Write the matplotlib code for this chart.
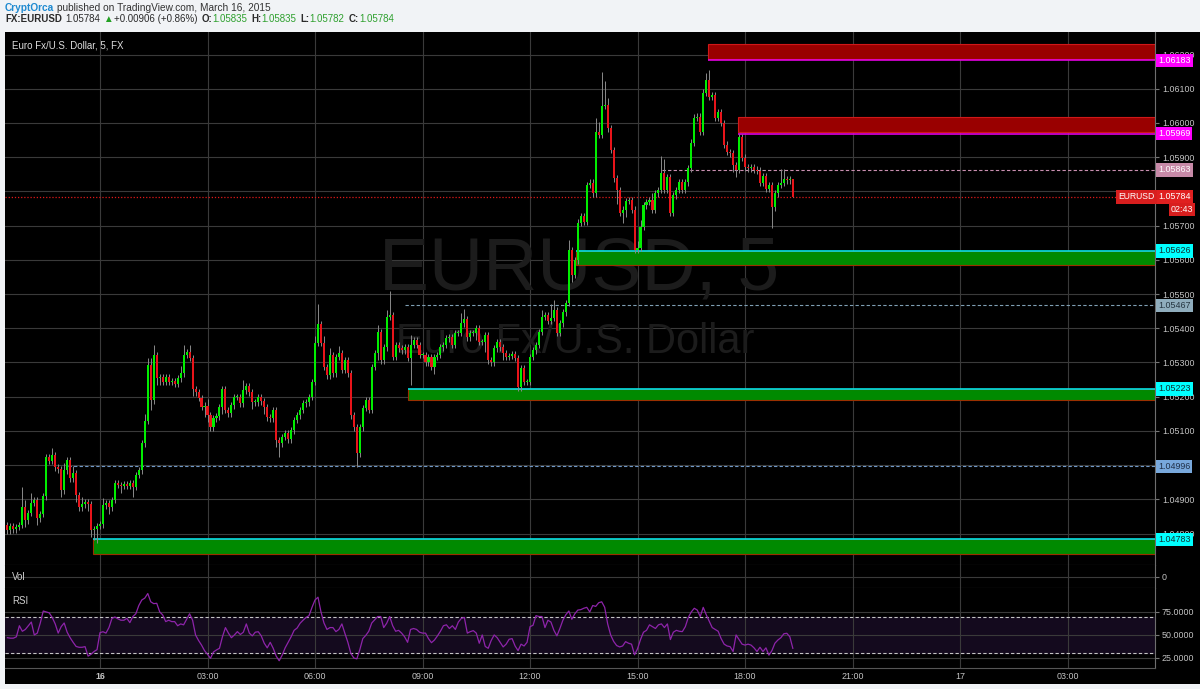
import numpy as np
import matplotlib
matplotlib.use("Agg")
import matplotlib.pyplot as plt
from matplotlib.patches import Rectangle
import matplotlib.transforms as mtransforms

FAM = ["Liberation Sans", "DejaVu Sans"]
plt.rcParams["font.family"] = FAM

# EURUSD 5 min closes, 21:25 (Mar 15) -> 19:20 (Mar 16), one row per hour
closes = np.array([
    1.04810, 1.04822, 1.04813, 1.04819, 1.04825, 1.04877, 1.04839, 1.04860, 1.04889, 1.04898, 1.04845, 1.04857,
    1.04909, 1.05023, 1.05012, 1.05029, 1.04994, 1.04988, 1.04927, 1.04985, 1.05015, 1.04962, 1.04977, 1.04912,
    1.04877, 1.04886, 1.04892, 1.04886, 1.04810, 1.04813, 1.04822, 1.04827, 1.04883, 1.04889, 1.04877, 1.04898,
    1.04947, 1.04942, 1.04939, 1.04944, 1.04939, 1.04947, 1.04936, 1.04971, 1.04985, 1.05064, 1.05129, 1.05292,
    1.05190, 1.05322, 1.05254, 1.05257, 1.05243, 1.05257, 1.05243, 1.05246, 1.05237, 1.05254, 1.05269, 1.05322,
    1.05330, 1.05313, 1.05222, 1.05213, 1.05196, 1.05170, 1.05173, 1.05146, 1.05111, 1.05137, 1.05143, 1.05170,
    1.05222, 1.05161, 1.05152, 1.05175, 1.05199, 1.05199, 1.05181, 1.05219, 1.05231, 1.05213, 1.05184, 1.05184,
    1.05199, 1.05187, 1.05170, 1.05140, 1.05137, 1.05161, 1.05073, 1.05064, 1.05082, 1.05094, 1.05076, 1.05102,
    1.05132, 1.05146, 1.05161, 1.05181, 1.05184, 1.05199, 1.05243, 1.05357, 1.05412, 1.05357, 1.05287, 1.05263,
    1.05322, 1.05269, 1.05316, 1.05327, 1.05278, 1.05307, 1.05269, 1.05146, 1.05111, 1.05035, 1.05111, 1.05167,
    1.05190, 1.05161, 1.05287, 1.05327, 1.05389, 1.05307, 1.05345, 1.05433, 1.05439, 1.05316, 1.05351, 1.05342,
    1.05336, 1.05345, 1.05313, 1.05351, 1.05365, 1.05351, 1.05322, 1.05322, 1.05301, 1.05316, 1.05287, 1.05316,
    1.05322, 1.05345, 1.05351, 1.05371, 1.05374, 1.05351, 1.05386, 1.05386, 1.05415, 1.05427, 1.05374, 1.05386,
    1.05386, 1.05401, 1.05360, 1.05360, 1.05380, 1.05307, 1.05301, 1.05342, 1.05360, 1.05345, 1.05327, 1.05316,
    1.05319, 1.05325, 1.05313, 1.05228, 1.05284, 1.05243, 1.05243, 1.05316, 1.05336, 1.05351, 1.05389, 1.05433,
    1.05439, 1.05421, 1.05430, 1.05453, 1.05386, 1.05415, 1.05447, 1.05474, 1.05629, 1.05556, 1.05599, 1.05708,
    1.05728, 1.05711, 1.05819, 1.05825, 1.05795, 1.05974, 1.05965, 1.06050, 1.06053, 1.05985, 1.05921, 1.05839,
    1.05804, 1.05737, 1.05746, 1.05772, 1.05775, 1.05746, 1.05629, 1.05635, 1.05696, 1.05760, 1.05769, 1.05775,
    1.05746, 1.05795, 1.05804, 1.05854, 1.05804, 1.05842, 1.05737, 1.05789, 1.05804, 1.05827, 1.05804, 1.05827,
    1.05868, 1.05942, 1.06015, 1.06018, 1.05974, 1.06088, 1.06126, 1.06076, 1.06082, 1.06015, 1.06032, 1.06000,
    1.05936, 1.05915, 1.05912, 1.05877, 1.05863, 1.05959, 1.05898, 1.05871, 1.05868, 1.05871, 1.05863, 1.05860,
    1.05825, 1.05845, 1.05807, 1.05819, 1.05754, 1.05795, 1.05819, 1.05825, 1.05836, 1.05833, 1.05835, 1.05784,
])
# wick lengths beyond the body, in pips
wick_up = np.array([
    1, 1, 1, 1, 1, 6, 2, 1, 3, 1, 1, 1,
    1, 1, 1, 2, 1, 1, 1, 2, 1, 1, 2, 1,
    1, 2, 1, 1, 1, 1, 1, 1, 2, 1, 1, 1,
    1, 1, 1, 1, 1, 1, 1, 1, 1, 1, 2, 2,
    2, 3, 1, 1, 1, 1, 1, 1, 1, 1, 2, 3,
    1, 2, 1, 1, 1, 1, 1, 2, 1, 1, 1, 1,
    1, 1, 1, 1, 1, 1, 1, 3, 1, 1, 1, 1,
    1, 1, 1, 1, 1, 1, 1, 1, 1, 1, 1, 1,
    1, 1, 1, 1, 1, 1, 1, 2, 6, 1, 2, 1,
    2, 1, 1, 2, 1, 1, 1, 1, 1, 1, 1, 1,
    1, 1, 1, 1, 2, 1, 1, 2, 7, 1, 1, 1,
    1, 1, 1, 3, 1, 1, 1, 1, 1, 1, 1, 1,
    1, 1, 1, 1, 1, 1, 1, 1, 3, 3, 1, 1,
    1, 1, 1, 1, 1, 1, 1, 1, 1, 1, 1, 1,
    1, 1, 1, 1, 1, 1, 1, 1, 1, 1, 1, 2,
    1, 1, 4, 3, 1, 1, 1, 1, 3, 1, 1, 1,
    1, 1, 1, 1, 1, 4, 3, 10, 7, 2, 1, 1,
    1, 1, 1, 1, 1, 1, 1, 2, 2, 1, 1, 1,
    2, 1, 1, 5, 4, 1, 1, 1, 1, 1, 1, 1,
    1, 1, 1, 1, 1, 1, 2, 3, 1, 1, 1, 1,
    1, 1, 1, 1, 1, 1, 1, 1, 1, 1, 1, 1,
    1, 1, 1, 1, 1, 1, 1, 4, 3, 1, 1, 0,
])
wick_dn = np.array([
    1, 1, 1, 1, 1, 1, 2, 1, 1, 1, 2, 1,
    1, 1, 1, 1, 1, 1, 2, 1, 1, 1, 1, 2,
    1, 1, 1, 2, 2, 3, 4, 1, 1, 1, 2, 1,
    1, 1, 2, 1, 1, 1, 3, 1, 1, 1, 1, 1,
    3, 1, 2, 2, 1, 1, 1, 1, 1, 1, 1, 1,
    1, 1, 2, 1, 1, 1, 3, 2, 1, 1, 1, 1,
    2, 1, 1, 1, 1, 1, 1, 1, 1, 1, 2, 1,
    1, 1, 2, 1, 1, 1, 2, 4, 1, 1, 1, 1,
    1, 1, 1, 1, 1, 1, 1, 1, 1, 1, 1, 1,
    1, 1, 1, 1, 1, 1, 1, 1, 1, 4, 1, 1,
    1, 1, 1, 1, 2, 1, 1, 1, 1, 1, 1, 1,
    1, 1, 1, 8, 1, 1, 1, 1, 1, 1, 1, 2,
    1, 1, 1, 1, 1, 1, 1, 1, 1, 1, 1, 1,
    1, 2, 1, 1, 3, 1, 1, 1, 1, 1, 2, 1,
    1, 1, 1, 1, 1, 1, 1, 1, 1, 1, 1, 1,
    1, 1, 1, 1, 1, 1, 1, 1, 1, 2, 1, 1,
    1, 1, 1, 1, 1, 1, 1, 1, 1, 1, 1, 1,
    4, 1, 3, 2, 1, 1, 1, 1, 1, 1, 1, 1,
    1, 1, 1, 1, 1, 1, 1, 1, 1, 1, 1, 1,
    1, 1, 1, 1, 1, 1, 1, 1, 1, 1, 1, 1,
    1, 1, 1, 2, 2, 1, 1, 1, 1, 1, 1, 1,
    1, 1, 1, 1, 6, 1, 1, 1, 1, 1, 1, 0,
])
rsi_vals = np.array([
    47, 46.5, 46.5, 48, 60, 54, 56, 60, 64, 50, 52, 63,
    76, 75, 74, 69, 62, 52, 59, 63, 53, 47, 42, 37.5,
    36.6, 36.6, 37.3, 27, 29, 32, 34, 52.5, 53.5, 52, 58, 68,
    69.5, 67.5, 66, 66, 68, 63.4, 70, 73, 82, 88, 90, 95,
    86, 84, 84.4, 75, 71.7, 64.5, 66, 64.5, 64.5, 60, 62, 61,
    67, 73, 66, 50, 44, 39, 33, 29, 24.6, 31.5, 33.7, 35.5,
    48, 58, 52, 47, 50, 53.6, 50.5, 53, 62, 52, 49, 53,
    53.5, 49, 41, 36, 42, 35.5, 27, 22, 28, 36, 42, 48,
    55, 57.5, 62.7, 66, 69, 71, 80, 88, 91, 75, 63, 56,
    58, 58, 53.6, 56, 62, 51.8, 42, 30, 25, 24, 34, 46,
    49.5, 54, 63, 66.5, 70, 70, 58, 62.7, 70, 60, 54, 55,
    52, 48, 42, 56, 57, 56, 53, 52, 52, 46, 41.6, 44.5,
    49, 54, 60, 61, 57, 60, 56, 64, 68, 69, 52, 53.6,
    54.7, 52, 41, 50, 37.5, 35.5, 44, 50, 47, 42, 37, 40,
    45.3, 46, 38, 33, 40, 38, 42, 59, 60.5, 71, 70, 70,
    58, 66, 64, 55, 49, 57, 66, 72, 76, 67, 73, 77,
    77.5, 79, 80, 75, 82, 81, 85, 86, 80, 62, 50, 43,
    38.5, 37, 38, 42.7, 41, 40, 28.5, 35, 45, 53, 55, 61,
    59, 57, 61, 62, 58, 62, 45, 53, 55, 54, 53.6, 59,
    69, 75, 79, 77, 70, 80, 72, 65, 58, 56, 54, 46,
    40, 38, 37.3, 32, 50, 45, 40, 39, 40, 39, 36, 32,
    36.6, 32, 36, 28, 33, 41, 44.5, 47, 51.3, 51.8, 48, 35.5,
])
first_open = 1.04825
first_bar_hour = -2 - 35 / 60   # 21:25 on the 15th, hours from 00:00 on the 16th

# resistance boxes (red) and support boxes (green)
res_line = [1.06183, 1.05969]
res_top = [1.06231, 1.06018]
res_bot = [1.06188, 1.05975]
res_from = [16.97, 17.81]
sup_line = [1.05626, 1.05223, 1.04783]
sup_bot = [1.05585, 1.05190, 1.04740]
sup_from = [13.28, 8.60, -0.20]
# dashed horizontal levels
dash_lvls = [1.05863, 1.05467, 1.04996]
dash_from = [15.69, 8.51, -0.89]
last_price = 1.05784

price_ticks = [1.048, 1.049, 1.050, 1.051, 1.052, 1.053, 1.054, 1.055,
               1.056, 1.057, 1.058, 1.059, 1.060, 1.061, 1.062]
hidden_ticks = [1.050, 1.058]   # labels covered by the price tags
time_ticks = [0, 3, 6, 9, 12, 15, 18, 21, 24, 27]
time_labels = ["16", "03:00", "06:00", "09:00", "12:00", "15:00", "18:00", "21:00", "17", "03:00"]
rsi_ticks = [25, 50, 75]

W, H = 1200, 689
fig = plt.figure(figsize=(W / 100, H / 100), dpi=100)
fig.patch.set_facecolor("#f1f3f6")


def fx(px):
    return px / W


def fy(py):
    return 1 - py / H


fig.add_artist(Rectangle((fx(5), fy(684)), 1 - fx(5), fy(32) - fy(684),
                         transform=fig.transFigure, fc="black", ec="none", zorder=-5))

L, R = 5, 1155
ax = fig.add_axes([fx(L), fy(565), fx(R) - fx(L), fy(32) - fy(565)])
axv = fig.add_axes([fx(L), fy(588), fx(R) - fx(L), fy(565) - fy(588)], sharex=ax)
axr = fig.add_axes([fx(L), fy(668), fx(R) - fx(L), fy(588) - fy(668)], sharex=ax)

xmin, xmax = -2.651, 29.44
GRID = "#3a3a3a"
LBL = "#c4c4c4"
for a in (ax, axv, axr):
    a.set_facecolor("black")
    a.set_xlim(xmin, xmax)
    a.yaxis.tick_right()
    a.tick_params(axis="y", direction="out", length=3, color="#777777",
                  labelcolor=LBL, labelsize=6.4, pad=2)
    a.tick_params(axis="x", length=0)
    for s in ("left", "top"):
        a.spines[s].set_visible(False)
    a.spines["right"].set_color("#6e6e6e")
    a.spines["bottom"].set_color("#555555")
    a.grid(True, color=GRID, lw=0.8)
    a.set_axisbelow(True)

# candles
t = first_bar_hour + np.arange(len(closes)) / 12
opens = np.r_[first_open, closes[:-1]]
highs = np.maximum(opens, closes) + wick_up * 1e-4
lows = np.minimum(opens, closes) - wick_dn * 1e-4
up = closes >= opens
cols = np.where(up, "#00ee00", "#e8141a")
body_lo = np.minimum(opens, closes)
body_h = np.maximum(np.abs(closes - opens), 0.000025)
ax.vlines(t, lows, highs, color="#8a8a8a", lw=0.7, zorder=3)
ax.bar(t, body_h, width=0.058, bottom=body_lo, color=cols, lw=0, zorder=4)

# watermark
ax.text(0.499, 0.553, "EURUSD, 5", transform=ax.transAxes, fontsize=54,
        color="#1c1c1c", ha="center", va="center", zorder=1)
ax.text(0.496, 0.418, "Euro Fx/U.S. Dollar", transform=ax.transAxes, fontsize=30,
        color="#1c1c1c", ha="center", va="center", zorder=1)

# zones
for top, bot, ln, x0 in zip(res_top, res_bot, res_line, res_from):
    ax.add_patch(Rectangle((x0, bot), xmax - x0, top - bot, fc="#990000",
                           ec="#d01818", lw=0.8, zorder=2))
    ax.hlines(ln, x0, xmax, color="#e000e0", lw=1.2, zorder=2.5)
for ln, bot, x0 in zip(sup_line, sup_bot, sup_from):
    ax.add_patch(Rectangle((x0, bot), xmax - x0, ln - bot, fc="#008a00",
                           ec="#9a3000", lw=0.8, zorder=2))
    ax.hlines(ln, x0, xmax, color="#00e5e5", lw=1.2, zorder=2.5)
dash_cols = ["#c98fb0", "#7f9fb4", "#6f98c8"]
for lv, x0, c in zip(dash_lvls, dash_from, dash_cols):
    ax.hlines(lv, x0, xmax, color=c, lw=0.8, linestyles=(0, (3, 2)), zorder=2.5)
ax.axhline(last_price, color="#e01818", lw=0.9, ls=(0, (1, 1.5)), zorder=2.5)

ax.set_ylim(1.04708, 1.06266)
ax.set_yticks(price_ticks)
ax.set_yticklabels(["" if any(abs(p - h) < 1e-9 for h in hidden_ticks) else f"{p:.5f}"
                    for p in price_ticks])
ax.set_xticks(time_ticks)
ax.tick_params(axis="x", labelbottom=False)

# right-axis price tags
tr = mtransforms.blended_transform_factory(ax.transAxes, ax.transData)
tags = [(res_line[0], "#ff00ff", "white"), (res_line[1], "#ff00ff", "white"),
        (dash_lvls[0], "#c88aa8", "white"), (last_price, "#e02020", "white"),
        (sup_line[0], "#00ffff", "#103030"), (dash_lvls[1], "#8fadbd", "#253540"),
        (sup_line[1], "#00ffff", "#103030"), (dash_lvls[2], "#78a8dc", "#203048"),
        (sup_line[2], "#00ffff", "#103030")]
for p, bg, fg in tags:
    ax.text(1.0025, p, f"{p:.5f}", transform=tr, ha="left", va="center", fontsize=6.4,
            color=fg, clip_on=False, zorder=10,
            bbox=dict(boxstyle="square,pad=0.25", fc=bg, ec="none"))
ax.text(0.9995, last_price, "EURUSD", transform=tr, ha="right", va="center", fontsize=6.2,
        color="white", clip_on=False, zorder=10,
        bbox=dict(boxstyle="square,pad=0.25", fc="#d81e1e", ec="none"))
ax.annotate("02:43", xy=(1.0235, last_price), xycoords=tr, xytext=(0, -9),
            textcoords="offset points", ha="center", va="center", fontsize=6.4,
            color="white", annotation_clip=False, zorder=10,
            bbox=dict(boxstyle="square,pad=0.25", fc="#d81e1e", ec="none"))

ax.text(7 / 1150, 1 - 13 / 533, "Euro Fx/U.S. Dollar, 5, FX", transform=ax.transAxes,
        fontsize=7, color="#dcdcdc", ha="left", va="center")

# volume pane (empty)
axv.set_ylim(-1, 1)
axv.set_yticks([0])
axv.set_yticklabels(["0"])
axv.tick_params(axis="x", labelbottom=False)
axv.text(7 / 1150, 0.5, "Vol", transform=axv.transAxes, fontsize=7,
         color="#d0d0d0", ha="left", va="center")

# RSI pane
axr.set_ylim(14.1, 101)
axr.axhspan(30, 70, color="#140a1e", zorder=0.5)
axr.hlines([30, 70], xmin, xmax, color="#c4c4c4", lw=0.8, linestyles=(0, (3, 2)), zorder=1)
axr.plot(t, rsi_vals, color="#8e24aa", lw=0.9, zorder=3)
axr.set_yticks(rsi_ticks)
axr.set_yticklabels([f"{v:.4f}" for v in rsi_ticks])
axr.text(7 / 1150, 1 - 13 / 80, "RSI", transform=axr.transAxes, fontsize=7,
         color="#d0d0d0", ha="left", va="center")
axr.set_xticks(time_ticks)
axr.set_xticklabels(time_labels)
axr.tick_params(axis="x", labelsize=6.4, labelcolor=LBL, pad=3, labelbottom=True)
axr.get_xticklabels()[0].set_fontweight("bold")

# header
renderer = fig.canvas.get_renderer()


def runs(x, y, parts, size):
    for s, col, bold, gap in parts:
        txt = fig.text(fx(x), fy(y), s, color=col, fontsize=size,
                       fontweight="bold" if bold else "normal", va="center", ha="left")
        x += txt.get_window_extent(renderer).width + gap


DARK = "#2a2a2a"
GRN = "#2ea02e"
runs(5, 8, [("CryptOrca", "#1f8ad0", True, 3),
            ("published on TradingView.com, March 16, 2015", "#333333", False, 0)], 7.3)
runs(5, 19.5, [("FX:EURUSD", DARK, True, 3), ("1.05784", DARK, False, 3),
               ("\u25b2", "#22a022", False, 2), ("+0.00906 (+0.86%)", DARK, False, 4),
               ("O:", DARK, True, 0), ("1.05835", GRN, False, 4),
               ("H:", DARK, True, 0), ("1.05835", GRN, False, 4),
               ("L:", DARK, True, 0), ("1.05782", GRN, False, 4),
               ("C:", DARK, True, 0), ("1.05784", GRN, False, 0)], 7.0)

fig.savefig("out.png", dpi=100, facecolor=fig.get_facecolor())
